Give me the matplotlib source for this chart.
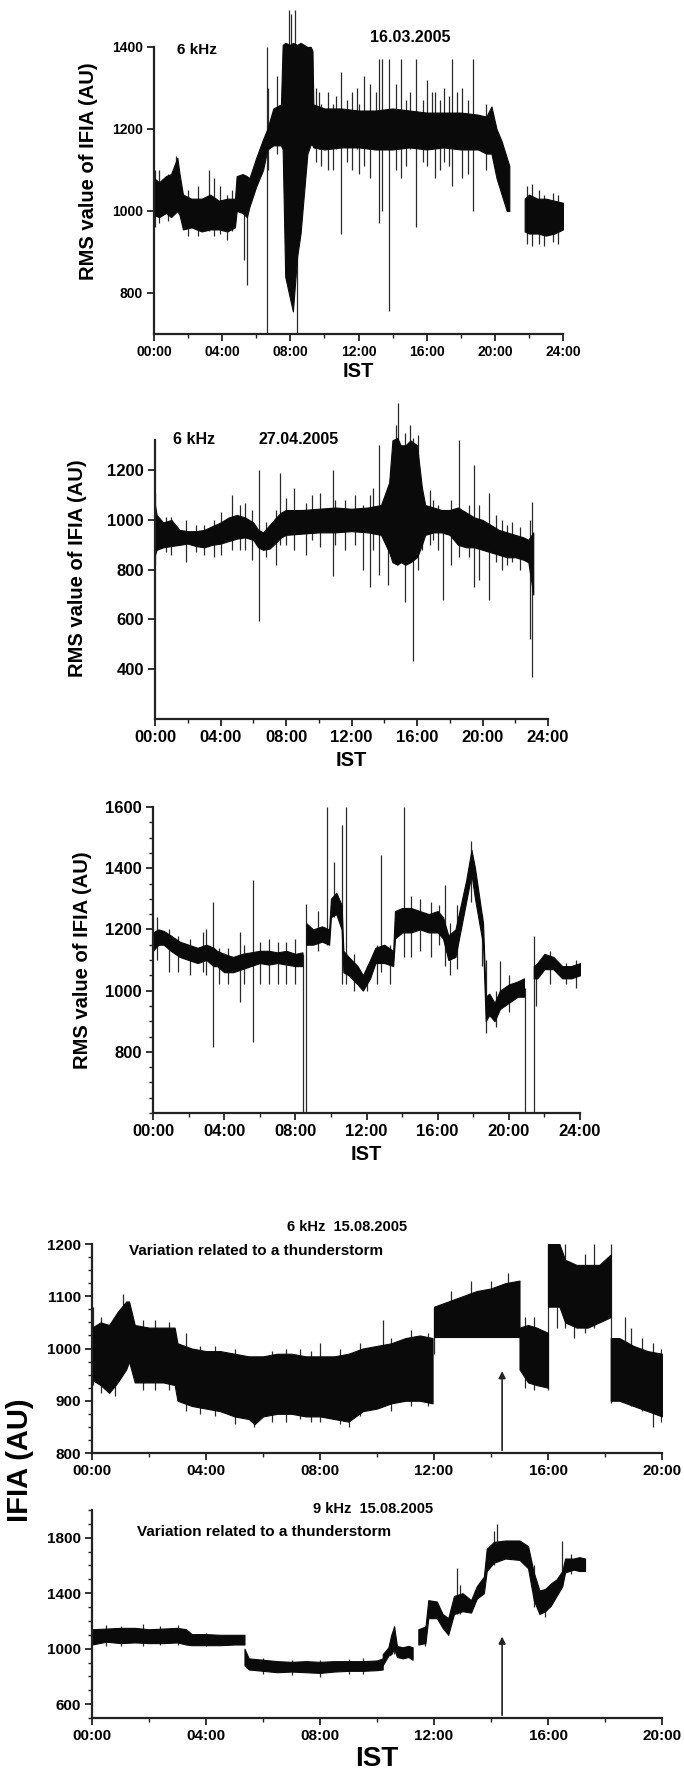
import numpy as np
import matplotlib
matplotlib.use("Agg")
import matplotlib.pyplot as plt
from matplotlib.ticker import MultipleLocator, FixedLocator

plt.rcParams['font.family'] = ['Liberation Sans', 'DejaVu Sans']
plt.rcParams['font.weight'] = 'bold'

# ---------------------------------------------------------------------------
# 16.03.2005, 6 kHz : band (low / high envelope) + isolated spikes
# ---------------------------------------------------------------------------
p1a_t = [0.0, 0.3, 0.7, 1.0, 1.37, 1.5, 1.7, 2.2, 2.8, 3.3, 3.8, 4.3, 4.75, 4.85, 5.2, 5.45, 5.6,
         6.0, 6.4, 6.65, 7.0, 7.45, 7.55, 7.7, 8.0, 8.15, 8.4, 8.6, 8.8, 9.0, 9.2, 9.3, 9.35,
         10, 11, 12, 13, 14, 15, 16, 17, 18, 19.0, 19.5, 19.8, 20.1, 20.4, 20.7, 20.85]
p1a_lo = [990, 985, 995, 985, 1000, 990, 955, 960, 950, 955, 955, 950, 960, 1000, 995, 985, 1010,
          1060, 1100, 1150, 1160, 1160, 1150, 840, 783, 755, 889, 945, 1042, 1139, 1163, 1160, 1155,
          1150, 1155, 1155, 1150, 1150, 1155, 1150, 1155, 1150, 1150, 1140, 1140, 1080, 1040, 1000, 1000]
p1a_hi = [1080, 1070, 1085, 1090, 1130, 1090, 1040, 1030, 1030, 1040, 1025, 1030, 1030, 1085, 1090, 1085, 1080,
          1130, 1175, 1200, 1250, 1260, 1405, 1410, 1405, 1410, 1405, 1410, 1405, 1400, 1400, 1390, 1260,
          1250, 1250, 1245, 1245, 1250, 1245, 1240, 1240, 1240, 1235, 1230, 1255, 1200, 1170, 1130, 1110]
p1b_t = [21.75, 22.0, 22.5, 23.0, 23.5, 24.0]
p1b_lo = [950, 945, 945, 940, 945, 955]
p1b_hi = [1030, 1040, 1030, 1030, 1025, 1020]
p1_spk_t = [0.05, 0.3, 0.8, 1.3, 2.0, 2.6, 3.2, 3.5, 3.9, 4.3, 4.6, 5.3, 5.46, 6.63, 6.7, 7.2,
            7.9, 8.05, 8.25, 8.39, 9.5, 9.7, 9.8, 10.2, 10.5, 10.7, 11.0, 11.3, 11.6, 11.9, 12.0,
            12.3, 12.7, 13.0, 13.2, 13.4, 13.8, 14.2, 14.5, 14.8, 15.0, 15.4, 15.8, 16.0, 16.3,
            16.5, 16.8, 17.0, 17.3, 17.5, 17.8, 18.1, 18.4, 18.7, 19.5, 21.9, 22.2, 22.6, 22.9,
            23.4, 23.7]
p1_spk_lo = [960, 970, 975, 1000, 940, 940, 950, 940, 945, 930, 950, 880, 820, 700, 1100, 1140,
             1300, 1300, 1300, 700, 1120, 1150, 1110, 1100, 1100, 1150, 945, 1120, 1100, 1150, 1090,
             1110, 1080, 1150, 970, 1000, 755, 1100, 1080, 1110, 1150, 960, 1120, 1110, 1150,
             1080, 1100, 1120, 1110, 1060, 1150, 1080, 1090, 1000, 1100, 920, 915, 920, 915,
             925, 920]
p1_spk_hi = [1100, 1100, 1090, 1135, 1050, 1060, 1100, 1080, 1060, 1040, 1050, 1040, 1050, 1400, 1300, 1330,
             1490, 1480, 1490, 1000, 1300, 1290, 1260, 1290, 1260, 1280, 1340, 1270, 1290, 1300, 1260,
             1330, 1310, 1290, 1370, 1370, 1370, 1310, 1370, 1270, 1290, 1370, 1270, 1320, 1290,
             1290, 1270, 1300, 1280, 1370, 1290, 1300, 1270, 1370, 1260, 1060, 1065, 1050, 1040,
             1045, 1040]

# ---------------------------------------------------------------------------
# 27.04.2005, 6 kHz
# ---------------------------------------------------------------------------
p2_t = [0.0, 0.1, 0.5, 1.0, 1.5, 2.0, 2.5, 3.0, 3.5, 4.0, 4.5, 5.0, 5.5, 6.0, 6.3, 6.6, 7.0, 7.4,
        7.7, 8.0, 9.0, 10.0, 11.0, 12.0, 13.0, 13.8, 14.3, 14.5, 14.8, 15.0, 15.3, 15.6, 16.0, 16.3,
        16.5, 17.0, 17.5, 18.0, 18.5, 19.0, 19.5, 20.0, 20.5, 21.0, 21.5, 22.0, 22.5, 22.8, 23.1]
p2_lo = [860, 880, 890, 895, 900, 905, 895, 890, 900, 905, 915, 925, 930, 920, 890, 880, 885, 910,
         930, 940, 945, 950, 950, 955, 950, 940, 870, 830, 820, 830, 820, 830, 850, 900,
         940, 950, 950, 940, 900, 890, 890, 880, 870, 860, 850, 850, 840, 830, 700]
p2_hi = [1060, 1020, 990, 1000, 960, 955, 955, 960, 975, 990, 1010, 1020, 1010, 990, 960, 950, 980, 1010,
         1030, 1040, 1040, 1045, 1050, 1045, 1050, 1060, 1150, 1320, 1330, 1300, 1300, 1320, 1300, 1130,
         1060, 1050, 1040, 1040, 1050, 1030, 1010, 1000, 980, 960, 950, 940, 930, 920, 950]
p2_spk_t = [0.0, 0.7, 1.0, 1.9, 2.5, 3.0, 3.6, 4.0, 4.7, 5.2, 5.5, 5.9, 6.35, 6.8, 7.4, 7.65, 8.0,
            8.5, 9.2, 9.6, 10.1, 10.9, 11.0, 11.6, 12.2, 12.7, 13.1, 13.3, 13.7, 14.2, 14.7, 14.85,
            15.25, 15.55, 15.75, 16.05, 16.3, 16.8, 17.0, 17.3, 17.6, 18.1, 18.55, 19.2, 19.5,
            19.8, 20.4, 20.8, 21.2, 21.5, 21.8, 22.3, 22.9, 23.05]
p2_spk_lo = [820, 870, 860, 830, 870, 860, 850, 860, 880, 880, 880, 840, 593, 850, 820, 900, 900,
             880, 860, 920, 890, 773, 900, 880, 900, 800, 730, 880, 780, 740, 900, 900,
             670, 830, 433, 800, 880, 900, 920, 880, 680, 820, 850, 850, 730,
             760, 680, 830, 800, 820, 830, 800, 520, 367]
p2_spk_hi = [1110, 1010, 1010, 1000, 980, 980, 1000, 1030, 1100, 1060, 1070, 1040, 1200, 990, 1040, 1190, 1090,
             1130, 1070, 1100, 1110, 1200, 1080, 1080, 1100, 1060, 1100, 1130, 1300, 1130, 1380, 1470,
             1350, 1380, 1330, 1340, 1100, 1120, 1080, 1060, 1040, 1080, 1323, 1060, 1220,
             1060, 1110, 1020, 1000, 980, 990, 970, 1000, 1071]

# ---------------------------------------------------------------------------
# third day (no header), 6 kHz
# ---------------------------------------------------------------------------
p3a_t = [0.0, 0.3, 0.6, 1.0, 1.5, 2.0, 2.5, 3.0, 3.4, 3.6, 4.0, 4.5, 5.0, 5.5, 6.0, 6.5, 7.0, 7.5, 8.0, 8.4]
p3a_lo = [1130, 1150, 1150, 1130, 1110, 1100, 1090, 1100, 1080, 1080, 1060, 1060, 1070, 1080, 1090, 1085,
          1090, 1085, 1080, 1080]
p3a_hi = [1190, 1200, 1195, 1180, 1160, 1150, 1140, 1150, 1140, 1130, 1120, 1110, 1120, 1125, 1130, 1130,
          1125, 1130, 1120, 1125]
p3b_t = [8.62, 9.0, 9.5, 9.9, 10.0, 10.3, 10.6, 10.7, 11.0, 11.5, 11.8, 12.2, 12.5, 13.0, 13.5, 13.6,
         14.0, 14.5, 15.0, 15.5, 16.0, 16.3, 16.6, 17.0, 17.3, 17.6, 17.9, 18.1, 18.4, 18.55, 18.7,
         18.9, 19.2, 19.5, 20.0, 20.5, 20.85]
p3b_lo = [1150, 1150, 1160, 1150, 1240, 1250, 1200, 1060, 1050, 1020, 1000, 1040, 1090, 1090, 1080, 1170,
          1190, 1190, 1200, 1190, 1190, 1170, 1100, 1110, 1200, 1290, 1380, 1300, 1200, 1150, 900,
          920, 900, 940, 960, 980, 980]
p3b_hi = [1220, 1200, 1210, 1200, 1300, 1320, 1280, 1130, 1110, 1080, 1050, 1100, 1140, 1150, 1130, 1260,
          1270, 1270, 1260, 1250, 1260, 1240, 1180, 1200, 1280, 1360, 1460, 1400, 1280, 1220, 980,
          990, 960, 1000, 1020, 1030, 1040]
p3c_t = [21.4, 21.6, 22.0, 22.5, 23.0, 23.5, 24.0]
p3c_lo = [1040, 1040, 1070, 1070, 1040, 1040, 1050]
p3c_hi = [1080, 1090, 1120, 1110, 1080, 1080, 1090]
p3_spk_t = [0.2, 0.9, 1.4, 2.1, 2.8, 3.0, 3.4, 3.7, 4.2, 4.9, 5.1, 5.6, 6.0, 6.5, 7.0, 7.5, 8.0,
            8.42, 8.6, 9.3, 9.8, 10.2, 10.6, 10.87, 11.3, 12.0, 12.6, 12.8, 13.3, 14.1, 14.5, 15.0,
            15.6, 16.1, 16.4, 16.7, 17.1, 17.85, 18.5, 18.7, 19.3, 19.5, 20.0, 20.9, 21.4, 21.55,
            22.3, 23.2, 23.8]
p3_spk_lo = [1100, 1060, 1060, 1050, 1060, 1050, 815, 1020, 1020, 962, 1020, 832, 1020, 1020, 1020, 1020, 1020,
             600, 600, 1130, 1150, 1240, 1020, 1020, 1000, 1000, 1020, 1060, 1020, 1110, 1110, 1130,
             1110, 1150, 1080, 1050, 1070, 1290, 1080, 860, 880, 940, 930, 600, 600, 951,
             1020, 1020, 1010]
p3_spk_hi = [1240, 1200, 1180, 1170, 1190, 1200, 1289, 1140, 1140, 1190, 1150, 1362, 1160, 1170, 1160, 1160, 1170,
             1120, 1284, 1260, 1600, 1420, 1540, 1600, 1120, 1080, 1150, 1442, 1150, 1600, 1310, 1300,
             1290, 1280, 1344, 1220, 1280, 1490, 1250, 1100, 1000, 1098, 1050, 1010, 1180, 1080,
             1130, 1090, 1100]

# ---------------------------------------------------------------------------
# 15.08.2005, 6 kHz (thunderstorm)
# ---------------------------------------------------------------------------
p4_seg_t = [[0.0, 0.3, 0.6, 0.9, 1.2, 1.3, 1.5, 2.0, 2.5, 2.9, 3.0, 3.5, 4.0, 4.5, 5.0, 5.5, 5.7, 6.0,
             6.5, 7.0, 7.5, 8.0, 8.5, 9.0, 9.5, 10.0, 10.5, 11.0, 11.5, 11.95],
            [12.0, 12.5, 13.0, 13.5, 14.0, 14.5, 15.0],
            [15.0, 15.3, 15.6, 16.0],
            [16.0, 16.4, 16.6, 17.0, 17.4, 17.8, 18.2],
            [18.2, 18.5, 19.0, 19.5, 20.0]]
p4_seg_lo = [[940, 930, 915, 935, 960, 975, 935, 935, 935, 930, 900, 890, 885, 880, 870, 865, 855, 870,
              875, 875, 870, 870, 865, 860, 880, 885, 895, 900, 900, 895],
             [1022, 1022, 1022, 1022, 1022, 1022, 1022],
             [960, 935, 930, 925],
             [1080, 1080, 1050, 1040, 1040, 1050, 1060],
             [900, 900, 890, 880, 870]]
p4_seg_hi = [[1040, 1050, 1045, 1070, 1090, 1090, 1045, 1040, 1040, 1040, 1010, 1000, 995, 995, 990, 985, 985, 985,
              990, 990, 985, 985, 985, 990, 1000, 1005, 1010, 1020, 1025, 1020],
             [1080, 1090, 1100, 1110, 1115, 1125, 1130],
             [1040, 1045, 1040, 1030],
             [1200, 1200, 1170, 1160, 1160, 1160, 1180],
             [1020, 1020, 1005, 995, 990]]
p4_spk_t = [0.05, 0.3, 0.8, 1.1, 1.8, 2.2, 2.7, 3.3, 3.8, 4.3, 5.0, 5.7, 6.3, 6.8, 7.3, 7.7, 8.0,
            8.7, 9.0, 9.4, 10.2, 10.5, 11.2, 11.8, 12.0, 12.6, 13.3, 14.0, 14.6, 15.2, 15.5, 16.0,
            16.3, 16.6, 16.9, 17.3, 17.6, 18.2, 18.7, 18.9, 19.3, 19.7, 19.95]
p4_spk_lo = [930, 915, 910, 960, 920, 920, 920, 880, 875, 870, 855, 850, 860, 860, 865, 860, 860,
             855, 850, 870, 890, 880, 890, 890, 990, 1022, 1022, 1022, 1022, 925, 920, 920,
             1040, 1040, 1020, 1030, 1040, 895, 900, 890, 880, 850, 860]
p4_spk_hi = [1080, 1060, 1060, 1105, 1055, 1055, 1050, 1030, 1005, 1005, 1000, 980, 995, 1000, 1000, 995, 1010,
             1000, 990, 1010, 1055, 1020, 1035, 1030, 1080, 1110, 1130, 1130, 1145, 1060, 1060, 1200,
             1200, 1200, 1130, 1180, 1200, 1200, 1060, 1040, 1020, 1010, 1000]

# ---------------------------------------------------------------------------
# 15.08.2005, 9 kHz (thunderstorm)
# ---------------------------------------------------------------------------
p5_seg_t = [[0.0, 0.5, 1.0, 1.5, 2.0, 2.5, 3.0, 3.3, 3.5, 4.0, 4.5, 5.0, 5.35],
            [5.35, 5.5, 6.0, 6.5, 7.0, 7.5, 8.0, 8.5, 9.0, 9.5, 10.0, 10.2],
            [10.2, 10.4, 10.5, 10.6, 10.7, 10.9, 11.1, 11.25],
            [11.45, 11.7, 11.8, 12.1, 12.3, 12.5, 12.7, 13.0, 13.3, 13.5, 13.75, 13.85, 14.1, 14.5,
             15.0, 15.3, 15.5, 15.7, 15.9, 16.1, 16.3, 16.5, 16.6, 16.9, 17.1, 17.3]]
p5_seg_lo = [[1030, 1050, 1040, 1045, 1040, 1040, 1045, 1030, 1025, 1025, 1025, 1030, 1030],
             [880, 850, 840, 830, 835, 830, 825, 835, 840, 840, 845, 850],
             [880, 950, 960, 1000, 940, 930, 940, 920],
             [1030, 1040, 1220, 1220, 1150, 1100, 1250, 1270, 1260, 1360, 1400, 1560, 1620, 1650,
              1640, 1580, 1350, 1250, 1270, 1310, 1380, 1450, 1550, 1570, 1560, 1560]]
p5_seg_hi = [[1140, 1145, 1150, 1150, 1140, 1145, 1150, 1140, 1105, 1105, 1100, 1100, 1100],
             [1000, 930, 920, 910, 905, 910, 905, 910, 910, 910, 915, 930],
             [960, 1010, 1100, 1160, 1020, 1010, 1020, 1010],
             [1140, 1160, 1350, 1340, 1250, 1220, 1380, 1400, 1350, 1450, 1520, 1720, 1770, 1780,
              1780, 1740, 1550, 1420, 1430, 1470, 1500, 1560, 1650, 1650, 1660, 1650]]
p5_spk_t = [0.5, 1.0, 1.8, 2.4, 3.0, 4.0, 6.0, 7.0, 8.0, 9.0, 9.5, 10.6, 11.7, 12.8, 12.9, 14.1,
            14.2, 15.5, 15.9, 16.5, 16.8]
p5_spk_lo = [1020, 1020, 1020, 1025, 1030, 1020, 820, 810, 797, 815, 820, 960, 1020, 1250, 1250, 1600,
             1650, 1300, 1230, 1450, 1540]
p5_spk_hi = [1170, 1165, 1180, 1165, 1170, 1110, 930, 920, 920, 925, 930, 1160, 1160, 1580, 1460, 1850,
             1900, 1600, 1300, 1780, 1680]

# time of the thunderstorm marker and arrow tips
storm_t = 14.39
storm_tip_6k = 962
storm_tip_9k = 1107

hour_labels_24 = ['00:00', '04:00', '08:00', '12:00', '16:00', '20:00', '24:00']
hour_labels_20 = ['00:00', '04:00', '08:00', '12:00', '16:00', '20:00']

W, H = 684, 1776
fig = plt.figure(figsize=(W / 100, H / 100), dpi=100)


def add_axes(left, right, top, bottom):
    # positions given in pixels from the top-left corner
    return fig.add_axes([left / W, 1 - bottom / H, (right - left) / W, (bottom - top) / H])


def draw_band(ax, t, lo, hi):
    ax.fill_between(t, lo, hi, color='#0a0a0a', lw=0.8, edgecolor='#0a0a0a', zorder=3)


def draw_spikes(ax, t, lo, hi, lw=0.9):
    # spikes sit under the band so only the part sticking out shows
    ax.vlines(t, lo, hi, color='#2a2a2a', lw=lw, zorder=2)


def style_axes(ax, xmax, labels, ybounds, ymajor, yminor, fs):
    ax.spines['top'].set_visible(False)
    ax.spines['right'].set_visible(False)
    for s in ('left', 'bottom'):
        ax.spines[s].set_linewidth(1.6)
        ax.spines[s].set_color('#222222')
        ax.spines[s].set_zorder(4)
    ax.spines['left'].set_bounds(*ybounds)
    ax.set_xlim(0, xmax)
    ax.xaxis.set_major_locator(FixedLocator(list(range(0, xmax + 1, 4))))
    ax.set_xticklabels(labels)
    ax.xaxis.set_minor_locator(MultipleLocator(2))
    ax.yaxis.set_major_locator(FixedLocator(ymajor))
    if yminor:
        ax.yaxis.set_minor_locator(MultipleLocator(yminor))
    else:
        ax.yaxis.set_minor_locator(FixedLocator([]))
    ax.tick_params(which='major', length=5, width=1.3, color='#222222', labelsize=fs, pad=3)
    ax.tick_params(which='minor', length=3, width=1.0, color='#222222')
    for lab in ax.get_xticklabels() + ax.get_yticklabels():
        lab.set_fontweight('bold')


# ---- panel 1 ----
ax1 = add_axes(154, 563, 8, 334)
draw_band(ax1, p1a_t, p1a_lo, p1a_hi)
draw_band(ax1, p1b_t, p1b_lo, p1b_hi)
draw_spikes(ax1, p1_spk_t, p1_spk_lo, p1_spk_hi)
ax1.set_ylim(700, 1495)
style_axes(ax1, 24, hour_labels_24, (700, 1400), [800, 1000, 1200, 1400], None, 10)
ax1.set_ylabel('RMS value of IFIA (AU)', fontsize=14.5, fontweight='bold')
ax1.yaxis.set_label_coords((98 - 154) / 409, 0.5)
ax1.set_xlabel('IST', fontsize=14.5, fontweight='bold', labelpad=2)
fig.text(197 / W, 1 - 50 / H, '6 kHz', ha='center', va='center', fontsize=11, fontweight='bold')
fig.text(410 / W, 1 - 37 / H, '16.03.2005', ha='center', va='center', fontsize=11.5, fontweight='bold')

# ---- panel 2 ----
ax2 = add_axes(155, 548, 403, 719)
draw_band(ax2, p2_t, p2_lo, p2_hi)
draw_spikes(ax2, p2_spk_t, p2_spk_lo, p2_spk_hi)
ax2.set_ylim(200, 1470)
style_axes(ax2, 24, hour_labels_24, (200, 1320), [400, 600, 800, 1000, 1200], None, 12)
ax2.set_ylabel('RMS value of IFIA (AU)', fontsize=14.5, fontweight='bold')
ax2.yaxis.set_label_coords((87 - 155) / 393, (719 - 568) / 316)
ax2.set_xlabel('IST', fontsize=14.5, fontweight='bold', labelpad=4)
fig.text(194 / W, 1 - 439 / H, '6 kHz', ha='center', va='center', fontsize=11.5, fontweight='bold')
fig.text(299 / W, 1 - 439 / H, '27.04.2005', ha='center', va='center', fontsize=11.5, fontweight='bold')

# ---- panel 3 ----
ax3 = add_axes(153, 580, 807, 1113)
draw_band(ax3, p3a_t, p3a_lo, p3a_hi)
draw_band(ax3, p3b_t, p3b_lo, p3b_hi)
draw_band(ax3, p3c_t, p3c_lo, p3c_hi)
draw_spikes(ax3, p3_spk_t, p3_spk_lo, p3_spk_hi)
ax3.set_ylim(600, 1600)
style_axes(ax3, 24, hour_labels_24, (600, 1600), [800, 1000, 1200, 1400, 1600], 50, 12)
ax3.set_ylabel('RMS value of IFIA (AU)', fontsize=14.5, fontweight='bold')
ax3.yaxis.set_label_coords((92 - 153) / 427, (1113 - 960) / 306)
ax3.set_xlabel('IST', fontsize=14.5, fontweight='bold', labelpad=4)

# ---- panel 4 ----
ax4 = add_axes(92, 662, 1244, 1453)
for t, lo, hi in zip(p4_seg_t, p4_seg_lo, p4_seg_hi):
    draw_band(ax4, t, lo, hi)
draw_spikes(ax4, p4_spk_t, p4_spk_lo, p4_spk_hi)
ax4.set_ylim(800, 1200)
style_axes(ax4, 20, hour_labels_20, (800, 1200), [800, 900, 1000, 1100, 1200], 25, 11)
ax4.annotate('', xy=(storm_t, storm_tip_6k), xytext=(storm_t, 800),
             arrowprops=dict(arrowstyle='-|>', color='#222222', lw=1.2, mutation_scale=10))
fig.text(347 / W, 1 - 1227 / H, '6 kHz  15.08.2005', ha='center', va='center', fontsize=10.5, fontweight='bold')
fig.text(129 / W, 1 - 1251 / H, 'Variation related to a thunderstorm', ha='left', va='center',
         fontsize=11, fontweight='bold')

# ---- panel 5 ----
ax5 = add_axes(92, 662, 1510, 1718)
for t, lo, hi in zip(p5_seg_t, p5_seg_lo, p5_seg_hi):
    draw_band(ax5, t, lo, hi)
draw_spikes(ax5, p5_spk_t, p5_spk_lo, p5_spk_hi)
ax5.set_ylim(500, 2000)
style_axes(ax5, 20, hour_labels_20, (500, 2000), [600, 1000, 1400, 1800], 100, 11)
ax5.annotate('', xy=(storm_t, storm_tip_9k), xytext=(storm_t, 500),
             arrowprops=dict(arrowstyle='-|>', color='#222222', lw=1.2, mutation_scale=10))
ax5.set_xlabel('IST', fontsize=20, fontweight='bold', labelpad=2)
fig.text(373 / W, 1 - 1509 / H, '9 kHz  15.08.2005', ha='center', va='center', fontsize=10.5, fontweight='bold')
fig.text(137 / W, 1 - 1532 / H, 'Variation related to a thunderstorm', ha='left', va='center',
         fontsize=11, fontweight='bold')

# shared label for the two thunderstorm panels
fig.text(20 / W, 1 - 1460 / H, 'IFIA (AU)', rotation=90, ha='center', va='center',
         fontsize=21, fontweight='bold')

fig.savefig('out.png', dpi=100, facecolor='white')
